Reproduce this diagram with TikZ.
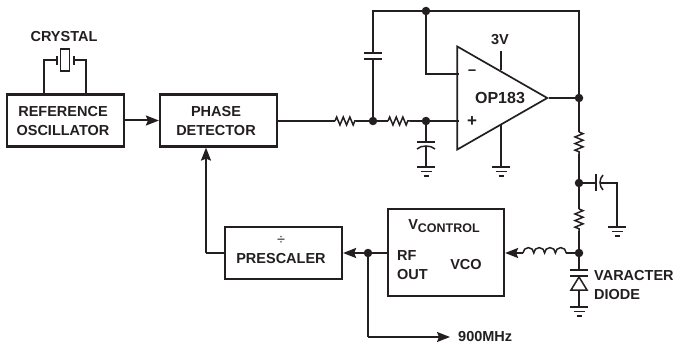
\documentclass[tikz,border=0pt]{standalone}
\usepackage{fontspec}
\setmainfont{Liberation Sans}
\usetikzlibrary{shapes.geometric, arrows.meta, positioning, decorations.pathmorphing}
\definecolor{inkblack}{RGB}{35,31,32}
\tikzset{
    wire/.style={line width=1.5pt, draw=inkblack},
    flow/.style={wire, line width=2pt, -{Stealth[length=13pt,width=10pt,inset=2pt]}},
    blockbox/.style={draw=inkblack, line width=2.2pt, minimum width=117pt, minimum height=52pt, inner sep=0pt, align=center},
    lbl/.style={text=inkblack, inner sep=0pt, align=center, font=\fontsize{14.5}{19}\selectfont\bfseries},
    leftlbl/.style={lbl, anchor=west, align=left},
    dot/.style={circle, fill=inkblack, inner sep=0pt, minimum size=8.5pt},
    resistor/.style={decorate, decoration={zigzag, segment length=6.6pt, amplitude=4pt}},
    gnd/.pic={
        \draw[wire] (-9,0) -- (9,0);
        \draw[wire] (-5.5,4.5) -- (5.5,4.5);
        \draw[wire] (-2.5,9) -- (2.5,9);
    }
}
\begin{document}
\begin{tikzpicture}[x=1pt, y=-1pt]
    \useasboundingbox (0,0) rectangle (674,350);

    % Blocks
    \node[blockbox] (refosc) at (65.5,120.5) {};
    \node[blockbox] (phase) at (218.5,120.5) {};
    \node[blockbox] (prescaler) at (283.5,253) {};
    \node[blockbox, minimum width=116pt, minimum height=87pt] (vco) at (446,252.5) {};
    \node[lbl] (reftext) at (63,121) {REFERENCE\\OSCILLATOR};
    \node[lbl] (phasetext) at (216,121) {PHASE\\DETECTOR};
    \node[lbl] (prescalertext) at (281,250.5) {\textmd{÷}\\PRESCALER};
    \node[lbl] (vctrl) at (444,226) {V\raisebox{-3pt}{\fontsize{12.5}{14}\selectfont CONTROL}};
    \node[leftlbl] (rfout) at (397,265.5) {RF\\OUT};
    \node[lbl] (vcotext) at (466,265) {VCO};

    % Crystal
    \node[lbl] (crystal) at (64,37) {CRYSTAL};
    \node[draw=inkblack, line width=1.5pt, minimum width=9pt, minimum height=22pt, inner sep=0pt] (xtal) at (65,60) {};
    \coordinate (xl) at (57,60);
    \coordinate (xr) at (74,60);
    \draw[wire] (44,94) -- (44,60) -- (xl);
    \draw[wire] (86,94) -- (86,60) -- (xr);
    \draw[wire] (57,56) -- (57,65);
    \draw[wire] (74,56) -- (74,65);

    % Op amp
    \node[draw=inkblack, line width=1.7pt, isosceles triangle, isosceles triangle apex angle=59.6,
        isosceles triangle stretches, minimum width=103pt, minimum height=90pt, inner sep=0pt, anchor=apex] (opamp) at (549,98) {};
    \node[lbl, font=\fontsize{16}{19}\selectfont\bfseries] (optext) at (500,98) {OP183};
    \node[lbl] (minus) at (472,73) {\textminus};
    \node[lbl, font=\fontsize{17}{19}\selectfont\bfseries] (plus) at (472,122) {+};
    \node[lbl] (vsup) at (500,40) {3V};
    \coordinate (inp) at (459,121);
    \coordinate (inm) at (459,74);
    \draw[wire] (501,51) -- (501,70);
    \coordinate (opg) at (501,167);
    \draw[wire] (501,125) -- (opg);
    \pic at (opg) {gnd};

    % Junctions
    \node[dot] (j1) at (373,121) {};
    \node[dot] (j2) at (426,121) {};
    \node[dot] (jtop) at (426,11) {};
    \node[dot] (jout) at (579,98) {};
    \node[dot] (jmid) at (579,183) {};
    \node[dot] (jvar) at (579,253) {};
    \node[dot] (jrf) at (368,253) {};

    % Phase detector to op amp
    \coordinate (r1a) at (335,121);
    \coordinate (r1b) at (356,121);
    \coordinate (r2a) at (388,121);
    \coordinate (r2b) at (410,121);
    \draw[wire] (phase.east |- r1a) -- (r1a);
    \draw[wire, resistor] (r1a) -- (r1b);
    \draw[wire] (r1b) -- (j1) -- (r2a);
    \draw[wire, resistor] (r2a) -- (r2b);
    \draw[wire] (r2b) -- (j2) -- (inp);

    % Feedback
    \coordinate (topl) at (373,11);
    \coordinate (topr) at (579,11);
    \draw[wire] (j1) -- (373,59);
    \draw[wire] (364,59) -- (382,59);
    \draw[wire] (364,53) -- (382,53);
    \draw[wire] (373,53) -- (topl) -- (jtop) -- (topr) -- (jout);
    \draw[wire] (jtop) -- (jtop |- inm) -- (inm);
    \draw[wire] (opamp.apex) -- (jout);

    % Filter capacitor at plus input
    \coordinate (c2g) at (426,167);
    \draw[wire] (j2) -- (426,142);
    \draw[wire] (417,142) -- (435,142);
    \draw[wire] (417,149) .. controls (421,145) and (431,145) .. (435,149);
    \draw[wire] (426,146) -- (c2g);
    \pic at (c2g) {gnd};

    % Output network
    \coordinate (r3a) at (579,132);
    \coordinate (r3b) at (579,154);
    \coordinate (r4a) at (579,209);
    \coordinate (r4b) at (579,231);
    \draw[wire] (jout) -- (r3a);
    \draw[wire, resistor] (r3a) -- (r3b);
    \draw[wire] (r3b) -- (jmid) -- (596,183);
    \draw[wire] (jmid) -- (r4a);
    \draw[wire, resistor] (r4a) -- (r4b);
    \draw[wire] (r4b) -- (jvar);
    \draw[wire] (596,174) -- (596,191);
    \draw[wire] (603,175) .. controls (599,179) and (599,186) .. (603,190);
    \coordinate (c3g) at (617,227);
    \draw[wire] (600.5,183) -- (617,183) -- (c3g);
    \pic at (c3g) {gnd};

    % Inductor to VCO
    \coordinate (la) at (523,253);
    \coordinate (lb) at (566,253);
    \draw[wire] (jvar) -- (lb);
    \draw[wire] (la) arc[start angle=180, end angle=0, radius=5.4pt]
        arc[start angle=180, end angle=0, radius=5.4pt]
        arc[start angle=180, end angle=0, radius=5.4pt]
        arc[start angle=180, end angle=0, radius=5.4pt];
    \draw[flow] (la) -- (vco.east |- la);

    % Varactor
    \coordinate (vg) at (579,307);
    \draw[wire] (jvar) -- (579,270);
    \draw[wire] (570,270) -- (588,270);
    \draw[wire] (570,276) -- (588,276);
    \draw[wire] (579,277) -- (571,290) -- (587,290) -- cycle;
    \draw[wire] (579,290) -- (vg);
    \pic at (vg) {gnd};
    \node[leftlbl] (vartext) at (594,285.5) {VARACTER\\DIODE};

    % Main signal path
    \draw[flow] (refosc.east) -- (phase.west);
    \draw[flow] (vco.west |- jrf) -- (prescaler.east);
    \coordinate (fbk) at (206,253);
    \draw[wire] (prescaler.west) -- (fbk);
    \draw[flow] (fbk) -- (fbk |- phase.south);

    % RF output
    \node[leftlbl] (rftext) at (458,337) {900MHz};
    \coordinate (rfc) at (368,337);
    \coordinate (rfe) at (450,337);
    \draw[wire] (jrf) -- (rfc);
    \draw[flow, line width=1.5pt] (rfc) -- (rfe);
\end{tikzpicture}
\end{document}
